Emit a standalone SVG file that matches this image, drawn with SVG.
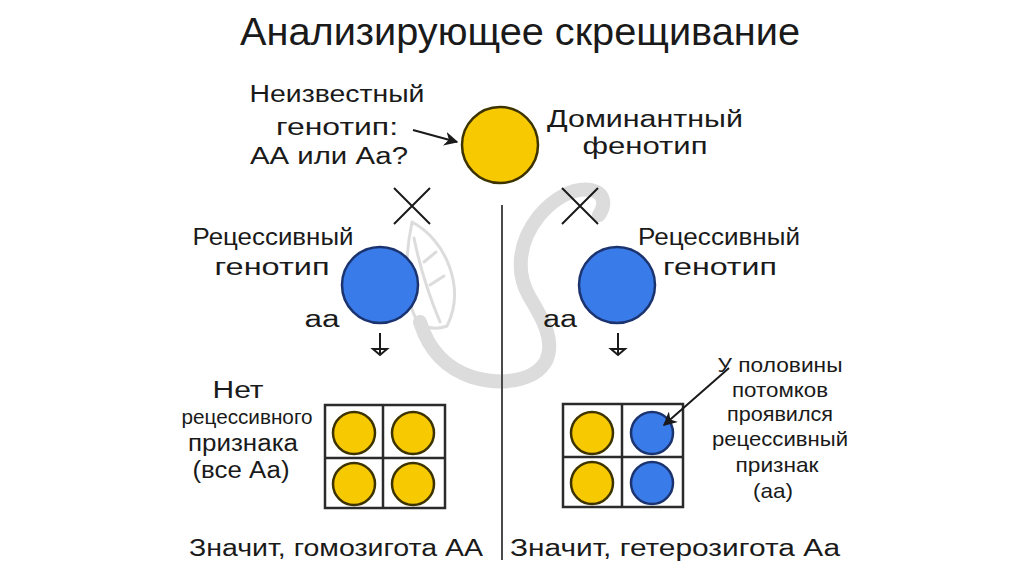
<svg xmlns="http://www.w3.org/2000/svg" width="1024" height="574" viewBox="0 0 1024 574">
  <style>
    text { font-family: "Liberation Sans", Arial, sans-serif; fill: #1a1a1a; }
    .title { font-size: 38px; }
    .lbl { font-size: 23px; }
    .sm { font-size: 21px; }
    .yel { fill: #F7C900; stroke: #3d3300; stroke-width: 2.5; }
    .blu { fill: #3A7BEA; stroke: #1b3470; stroke-width: 2.5; }
    .grid { fill: none; stroke: #2b2b2b; stroke-width: 2.5; }
    .line { stroke: #1a1a1a; stroke-width: 2; fill: none; }
    .wm { fill: none; stroke: #dcdcdc; stroke-linecap: round; stroke-linejoin: round; }
  </style>
  <defs>
    <marker id="ah" viewBox="0 0 10 10" refX="9" refY="5" markerWidth="7" markerHeight="7" orient="auto" markerUnits="strokeWidth">
      <path d="M0,0 L10,5 L0,10 L3,5 Z" fill="#1a1a1a"/>
    </marker>
  </defs>
  <rect width="1024" height="574" fill="#ffffff"/>

  <g id="watermark">
    <path class="wm" stroke-width="14" d="M 420,322 C 428,348 445,368 472,377 C 502,386 535,381 546,361 C 556,340 541,316 529,296 C 515,271 519,241 539,216 C 554,198 574,187 591,190 C 605,193 606,205 599,215"/>
    <path class="wm" stroke-width="3" d="M 412,222 C 446,240 466,288 447,326 M 412,222 C 404,262 404,300 418,322 Q 432,332 447,326 M 414,238 C 420,268 430,298 440,322 M 424,262 L 436,252 M 430,285 L 444,276"/>
  </g>

  <g id="title">
    <text class="title" x="520" y="45" text-anchor="middle" textLength="560" lengthAdjust="spacingAndGlyphs">Анализирующее скрещивание</text>
  </g>

  <g id="divider">
    <line x1="502" y1="205" x2="502" y2="560" stroke="#4a4a4a" stroke-width="2"/>
  </g>

  <g id="unknown-parent">
    <circle class="yel" cx="500" cy="145" r="38"/>
  </g>
  <g id="unknown-label">
    <text class="lbl" x="337" y="102" text-anchor="middle" textLength="175" lengthAdjust="spacingAndGlyphs">Неизвестный</text>
    <text class="lbl" x="337" y="135" text-anchor="middle" textLength="122" lengthAdjust="spacingAndGlyphs">генотип:</text>
    <text class="lbl" x="329" y="164" text-anchor="middle" textLength="158" lengthAdjust="spacingAndGlyphs">АА или Аа?</text>
  </g>
  <g id="dominant-label">
    <text class="lbl" x="645" y="127" text-anchor="middle" textLength="196" lengthAdjust="spacingAndGlyphs">Доминантный</text>
    <text class="lbl" x="645" y="154" text-anchor="middle" textLength="125" lengthAdjust="spacingAndGlyphs">фенотип</text>
  </g>

  <g id="cross-left">
    <path class="line" d="M394,188 L430,224 M430,188 L394,224"/>
  </g>
  <g id="cross-right">
    <path class="line" d="M562,188 L598,224 M598,188 L562,224"/>
  </g>

  <g id="recessive-left">
    <circle class="blu" cx="380" cy="285" r="38"/>
    <text class="lbl" x="273" y="245" text-anchor="middle" textLength="161" lengthAdjust="spacingAndGlyphs">Рецессивный</text>
    <text class="lbl" x="272" y="275" text-anchor="middle" textLength="115" lengthAdjust="spacingAndGlyphs">генотип</text>
    <text class="lbl" x="322" y="327" text-anchor="middle" textLength="35" lengthAdjust="spacingAndGlyphs">аа</text>
  </g>
  <g id="recessive-right">
    <circle class="blu" cx="617" cy="285" r="38"/>
    <text class="lbl" x="719" y="245" text-anchor="middle" textLength="162" lengthAdjust="spacingAndGlyphs">Рецессивный</text>
    <text class="lbl" x="720" y="275" text-anchor="middle" textLength="114" lengthAdjust="spacingAndGlyphs">генотип</text>
    <text class="lbl" x="560" y="327" text-anchor="middle" textLength="34" lengthAdjust="spacingAndGlyphs">аа</text>
  </g>

  <g id="offspring-left">
    <rect class="grid" x="325" y="405" width="120" height="103"/>
    <line class="grid" x1="383" y1="405" x2="383" y2="508"/>
    <line class="grid" x1="325" y1="458" x2="445" y2="458"/>
    <circle class="yel" cx="354" cy="433" r="21"/>
    <circle class="yel" cx="413" cy="433" r="21"/>
    <circle class="yel" cx="354" cy="484" r="21"/>
    <circle class="yel" cx="413" cy="484" r="21"/>
  </g>
  <g id="offspring-left-label">
    <text class="lbl" x="238" y="398" text-anchor="middle" textLength="51" lengthAdjust="spacingAndGlyphs">Нет</text>
    <text class="sm" x="247" y="424" text-anchor="middle" textLength="131" lengthAdjust="spacingAndGlyphs">рецессивного</text>
    <text class="lbl" x="243" y="451" text-anchor="middle" textLength="110" lengthAdjust="spacingAndGlyphs">признака</text>
    <text class="lbl" x="241" y="478" text-anchor="middle" textLength="97" lengthAdjust="spacingAndGlyphs">(все Аа)</text>
  </g>
  <g id="conclusion-left">
    <text class="lbl" x="336" y="556" text-anchor="middle" textLength="294" lengthAdjust="spacingAndGlyphs">Значит, гомозигота АА</text>
  </g>

  <g id="offspring-right">
    <rect class="grid" x="563" y="404" width="120" height="103"/>
    <line class="grid" x1="622" y1="404" x2="622" y2="507"/>
    <line class="grid" x1="563" y1="457" x2="683" y2="457"/>
    <circle class="yel" cx="592" cy="433" r="21"/>
    <circle class="blu" cx="652" cy="433" r="21"/>
    <circle class="yel" cx="592" cy="483" r="21"/>
    <circle class="blu" cx="652" cy="483" r="21"/>
  </g>
  <g id="offspring-right-label">
    <text class="sm" x="780" y="372" text-anchor="middle" textLength="125" lengthAdjust="spacingAndGlyphs">У половины</text>
    <text class="sm" x="780" y="397" text-anchor="middle" textLength="96" lengthAdjust="spacingAndGlyphs">потомков</text>
    <text class="sm" x="780" y="421" text-anchor="middle" textLength="106" lengthAdjust="spacingAndGlyphs">проявился</text>
    <text class="sm" x="780" y="446" text-anchor="middle" textLength="136" lengthAdjust="spacingAndGlyphs">рецессивный</text>
    <text class="sm" x="777" y="472" text-anchor="middle" textLength="83" lengthAdjust="spacingAndGlyphs">признак</text>
    <text class="sm" x="773" y="498" text-anchor="middle" textLength="40" lengthAdjust="spacingAndGlyphs">(аа)</text>
  </g>
  <g id="conclusion-right">
    <text class="lbl" x="675" y="556" text-anchor="middle" textLength="330" lengthAdjust="spacingAndGlyphs">Значит, гетерозигота Аа</text>
  </g>

  <g id="connectors">
    <path class="line" d="M413,130 L457,142" marker-end="url(#ah)"/>
    <path class="line" d="M729,368 L664,425" marker-end="url(#ah)"/>
    <path class="line" d="M380,333 V355 M373,349 H387 L380,355 Z"/>
    <path class="line" d="M618,333 V355 M611,349 H625 L618,355 Z"/>
  </g>
</svg>
